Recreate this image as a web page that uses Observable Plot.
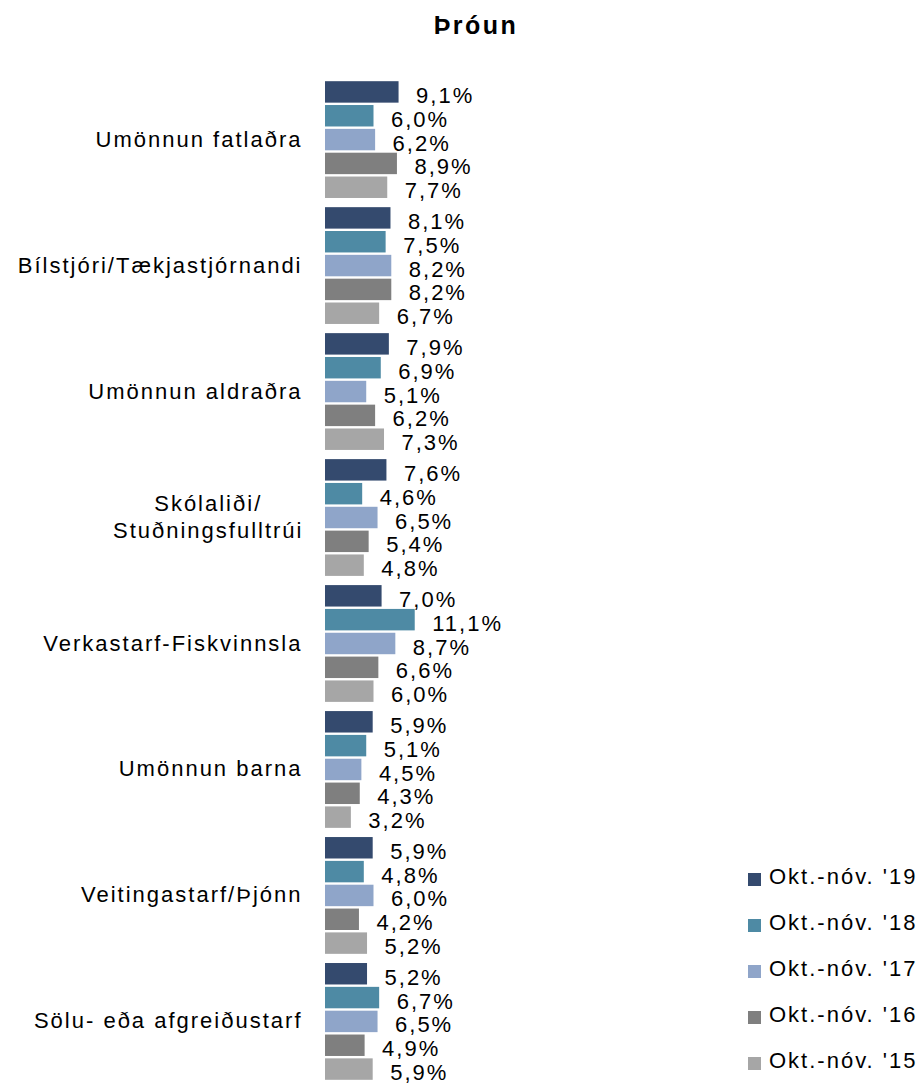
<!DOCTYPE html>
<html>
<head>
<meta charset="utf-8">
<script src="https://cdn.jsdelivr.net/npm/d3@7"></script>
<script src="https://cdn.jsdelivr.net/npm/@observablehq/plot@0.6"></script>
<style>
  html, body { margin: 0; padding: 0; background: #fff; }
  body { font-family: Arial, "Liberation Sans", sans-serif; }
  #wrap { position: relative; width: 922px; height: 1084px; overflow: hidden; }
  #title { height: 50px; width: 922px; box-sizing: border-box; padding-left: 30px; text-align: center; font-weight: bold; font-size: 25px; letter-spacing: 2.5px; line-height: 50px; color: #000; }
  #legend { position: absolute; left: 748px; top: 854px; }
  .item { height: 46px; display: flex; align-items: center; font-size: 22px; letter-spacing: 2px; color: #000; }
  .sw { width: 13px; height: 13px; margin-right: 8px; margin-top: 5px; flex: none; }
</style>
</head>
<body>
<div id="wrap">
  <div id="title">Þróun</div>
  <div id="chart"></div>
  <div id="legend"></div>
</div>
<script>
const categories = [
  "Umönnun fatlaðra",
  "Bílstjóri/Tækjastjórnandi",
  "Umönnun aldraðra",
  "Skólaliði/\nStuðningsfulltrúi",
  "Verkastarf-Fiskvinnsla",
  "Umönnun barna",
  "Veitingastarf/Þjónn",
  "Sölu- eða afgreiðustarf"
];
const seriesNames = ["Okt.-nóv. '19", "Okt.-nóv. '18", "Okt.-nóv. '17", "Okt.-nóv. '16", "Okt.-nóv. '15"];
const seriesColors = ["#344a6e", "#4e8aa4", "#8fa5c9", "#7f7f7f", "#a6a6a6"];
const v19 = [9.1, 8.1, 7.9, 7.6, 7.0, 5.9, 5.9, 5.2];
const v18 = [6.0, 7.5, 6.9, 4.6, 11.1, 5.1, 4.8, 6.7];
const v17 = [6.2, 8.2, 5.1, 6.5, 8.7, 4.5, 6.0, 6.5];
const v16 = [8.9, 8.2, 6.2, 5.4, 6.6, 4.3, 4.2, 4.9];
const v15 = [7.7, 6.7, 7.3, 4.8, 6.0, 3.2, 5.2, 5.9];

const seriesValues = [v19, v18, v17, v16, v15];
const rows = [];
categories.forEach((c, i) => {
  seriesNames.forEach((s, j) => rows.push({category: c, series: s, value: seriesValues[j][i]}));
});
const fmt = v => v.toFixed(1).replace(".", ",") + "%";
const font = 'Arial, "Liberation Sans", sans-serif';

const chart = Plot.plot({
  width: 922,
  height: 1034,
  marginTop: 30,
  marginBottom: 3,
  marginLeft: 325,
  marginRight: 500,
  facet: {marginTop: 0, marginBottom: 0, marginLeft: 0, marginRight: 0},
  style: {fontFamily: font, background: "transparent"},
  x: {domain: [0, 12], axis: null},
  y: {domain: seriesNames, axis: null, paddingInner: 0.1, paddingOuter: 0.05, round: false},
  fy: {domain: categories, axis: null, paddingInner: 0.054, paddingOuter: 0, round: false},
  color: {domain: seriesNames, range: seriesColors},
  marks: [
    Plot.barX(rows, {x: "value", y: "series", fy: "category", fill: "series"}),
    Plot.text(rows, {x: "value", y: "series", fy: "category", text: d => fmt(d.value),
      textAnchor: "start", dx: 17, dy: 3.5, fontSize: 22, fill: "#000"}),
    Plot.text(categories, {fy: d => d, frameAnchor: "left", text: d => d,
      textAnchor: "end", dx: -23, dy: -2, fontSize: 22, lineHeight: 1.21, fill: "#000"})
  ]
});
chart.querySelectorAll("text").forEach(t => t.style.letterSpacing = "2px");
document.getElementById("chart").appendChild(chart);

// center multi-line category labels within their right-aligned block
chart.querySelectorAll("text").forEach(t => {
  const spans = t.querySelectorAll("tspan");
  if (spans.length > 1) {
    let w = 0;
    spans.forEach(s => { w = Math.max(w, s.getComputedTextLength()); });
    t.setAttribute("text-anchor", "middle");
    spans.forEach(s => s.setAttribute("x", -w / 2 + 1));
  }
});

const legend = document.getElementById("legend");
seriesNames.forEach((s, j) => {
  const item = document.createElement("div");
  item.className = "item";
  const sw = document.createElement("span");
  sw.className = "sw";
  sw.style.background = seriesColors[j];
  const label = document.createElement("span");
  label.textContent = s;
  item.appendChild(sw);
  item.appendChild(label);
  legend.appendChild(item);
});
</script>
</body>
</html>
